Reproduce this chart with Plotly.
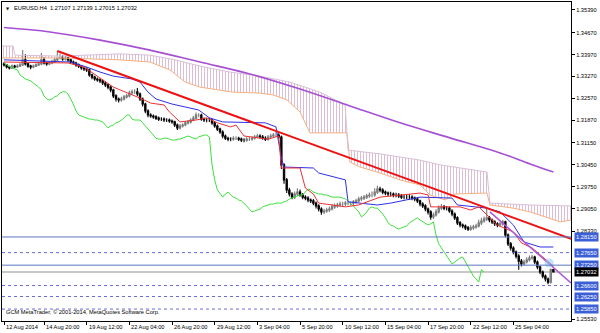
import plotly.graph_objects as go

# ---------------- data (EURUSD H4) ----------------
first_open = 1.3367
closes = [
    1.3364, 1.3357, 1.3354, 1.3360, 1.3357, 1.3360, 1.3364, 1.3380, 1.3367, 1.3360,
    1.3357, 1.3360, 1.3364, 1.3367, 1.3380, 1.3370, 1.3367, 1.3370, 1.3373, 1.3380,
    1.3386, 1.3389, 1.3383, 1.3386, 1.3380, 1.3373, 1.3370, 1.3364, 1.3360, 1.3354,
    1.3351, 1.3348, 1.3332, 1.3325, 1.3319, 1.3316, 1.3313, 1.3306, 1.3300, 1.3293,
    1.3284, 1.3265, 1.3255, 1.3252, 1.3255, 1.3262, 1.3265, 1.3274, 1.3278, 1.3278,
    1.3271, 1.3255, 1.3239, 1.3217, 1.3204, 1.3201, 1.3198, 1.3194, 1.3191, 1.3191,
    1.3188, 1.3188, 1.3185, 1.3182, 1.3172, 1.3163, 1.3169, 1.3172, 1.3179, 1.3182,
    1.3188, 1.3194, 1.3204, 1.3204, 1.3191, 1.3188, 1.3188, 1.3188, 1.3179, 1.3169,
    1.3159, 1.3150, 1.3137, 1.3130, 1.3127, 1.3127, 1.3130, 1.3130, 1.3127, 1.3124,
    1.3124, 1.3127, 1.3127, 1.3130, 1.3134, 1.3137, 1.3134, 1.3130, 1.3127, 1.3134,
    1.3137, 1.3140, 1.3140, 1.3134, 1.3045, 1.2997, 1.2965, 1.2952, 1.2942, 1.2952,
    1.2958, 1.2949, 1.2942, 1.2939, 1.2933, 1.2930, 1.2923, 1.2914, 1.2904, 1.2895,
    1.2898, 1.2901, 1.2904, 1.2911, 1.2914, 1.2917, 1.2920, 1.2920, 1.2923, 1.2923,
    1.2923, 1.2927, 1.2930, 1.2936, 1.2939, 1.2942, 1.2946, 1.2949, 1.2949, 1.2958,
    1.2968, 1.2965, 1.2958, 1.2955, 1.2952, 1.2952, 1.2949, 1.2949, 1.2946, 1.2942,
    1.2942, 1.2942, 1.2942, 1.2939, 1.2936, 1.2930, 1.2920, 1.2914, 1.2904, 1.2895,
    1.2879, 1.2885, 1.2895, 1.2907, 1.2911, 1.2907, 1.2907, 1.2898, 1.2888, 1.2876,
    1.2860, 1.2853, 1.2850, 1.2844, 1.2840, 1.2844, 1.2847, 1.2850, 1.2860, 1.2866,
    1.2872, 1.2876, 1.2869, 1.2863, 1.2857, 1.2853, 1.2857, 1.2863, 1.2821, 1.2793,
    1.2780, 1.2767, 1.2754, 1.2738, 1.2729, 1.2735, 1.2742, 1.2748, 1.2751, 1.2735,
    1.2719, 1.2703, 1.2690, 1.2681, 1.2671, 1.27107, 1.27032,
]
highs = [
    1.3372, 1.3367, 1.3361, 1.3365, 1.3364, 1.3366, 1.3370, 1.3411, 1.3398, 1.3371,
    1.3364, 1.3365, 1.3369, 1.3372, 1.3402, 1.3389, 1.3375, 1.3376, 1.3380, 1.3388,
    1.3408, 1.3400, 1.3395, 1.3393, 1.3390, 1.3384, 1.3378, 1.3374, 1.3368, 1.3363,
    1.3358, 1.3356, 1.3352, 1.3336, 1.3329, 1.3324, 1.3321, 1.3317, 1.3311, 1.3304,
    1.3298, 1.3288, 1.3270, 1.3260, 1.3262, 1.3268, 1.3272, 1.3281, 1.3285, 1.3286,
    1.3290, 1.3276, 1.3260, 1.3243, 1.3222, 1.3210, 1.3206, 1.3203, 1.3199, 1.3197,
    1.3196, 1.3194, 1.3193, 1.3190, 1.3186, 1.3177, 1.3175, 1.3178, 1.3185, 1.3188,
    1.3194, 1.3201, 1.3212, 1.3210, 1.3208, 1.3196, 1.3194, 1.3195, 1.3192, 1.3183,
    1.3174, 1.3163, 1.3155, 1.3142, 1.3135, 1.3133, 1.3136, 1.3136, 1.3135, 1.3132,
    1.3130, 1.3133, 1.3134, 1.3136, 1.3140, 1.3144, 1.3143, 1.3140, 1.3136, 1.3140,
    1.3144, 1.3147, 1.3150, 1.3146, 1.3139, 1.3050, 1.3003, 1.2972, 1.2958, 1.2960,
    1.2970, 1.2966, 1.2955, 1.2948, 1.2945, 1.2938, 1.2936, 1.2928, 1.2919, 1.2910,
    1.2905, 1.2908, 1.2912, 1.2920, 1.2922, 1.2924, 1.2928, 1.2927, 1.2930, 1.2930,
    1.2929, 1.2933, 1.2937, 1.2943, 1.2946, 1.2949, 1.2953, 1.2957, 1.2960, 1.2970,
    1.2978, 1.2975, 1.2970, 1.2963, 1.2960, 1.2959, 1.2957, 1.2956, 1.2955, 1.2952,
    1.2949, 1.2950, 1.2951, 1.2948, 1.2944, 1.2941, 1.2934, 1.2926, 1.2919, 1.2909,
    1.2900, 1.2893, 1.2903, 1.2915, 1.2920, 1.2917, 1.2914, 1.2912, 1.2903, 1.2893,
    1.2881, 1.2866, 1.2858, 1.2855, 1.2850, 1.2852, 1.2854, 1.2857, 1.2870, 1.2876,
    1.2880, 1.2905, 1.2882, 1.2874, 1.2868, 1.2862, 1.2864, 1.2870, 1.2867, 1.2826,
    1.2799, 1.2785, 1.2772, 1.2760, 1.2745, 1.2742, 1.2750, 1.2756, 1.2758, 1.2755,
    1.2740, 1.2724, 1.2708, 1.2695, 1.2686, 1.2714, 1.27139,
]
lows = [
    1.3359, 1.3352, 1.3349, 1.3351, 1.3353, 1.3354, 1.3357, 1.3360, 1.3362, 1.3355,
    1.3350, 1.3353, 1.3357, 1.3360, 1.3363, 1.3365, 1.3361, 1.3363, 1.3366, 1.3370,
    1.3376, 1.3381, 1.3377, 1.3378, 1.3374, 1.3367, 1.3364, 1.3358, 1.3354, 1.3348,
    1.3344, 1.3341, 1.3326, 1.3318, 1.3313, 1.3310, 1.3306, 1.3300, 1.3293, 1.3286,
    1.3277, 1.3258, 1.3247, 1.3244, 1.3246, 1.3250, 1.3257, 1.3260, 1.3269, 1.3271,
    1.3265, 1.3249, 1.3231, 1.3210, 1.3197, 1.3195, 1.3192, 1.3188, 1.3185, 1.3185,
    1.3182, 1.3182, 1.3179, 1.3176, 1.3166, 1.3156, 1.3158, 1.3164, 1.3168, 1.3174,
    1.3177, 1.3184, 1.3190, 1.3197, 1.3186, 1.3182, 1.3181, 1.3182, 1.3173, 1.3163,
    1.3153, 1.3144, 1.3130, 1.3124, 1.3120, 1.3120, 1.3122, 1.3124, 1.3121, 1.3118,
    1.3117, 1.3119, 1.3121, 1.3122, 1.3126, 1.3130, 1.3128, 1.3125, 1.3121, 1.3122,
    1.3130, 1.3133, 1.3134, 1.3128, 1.3032, 1.2985, 1.2955, 1.2944, 1.2935, 1.2936,
    1.2946, 1.2943, 1.2935, 1.2932, 1.2926, 1.2923, 1.2916, 1.2906, 1.2896, 1.2886,
    1.2888, 1.2892, 1.2895, 1.2899, 1.2905, 1.2908, 1.2911, 1.2913, 1.2914, 1.2916,
    1.2915, 1.2917, 1.2921, 1.2925, 1.2930, 1.2933, 1.2936, 1.2940, 1.2942, 1.2943,
    1.2952, 1.2958, 1.2951, 1.2948, 1.2945, 1.2945, 1.2942, 1.2942, 1.2939, 1.2936,
    1.2935, 1.2935, 1.2934, 1.2932, 1.2929, 1.2923, 1.2913, 1.2907, 1.2897, 1.2887,
    1.2870, 1.2872, 1.2880, 1.2890, 1.2901, 1.2900, 1.2899, 1.2892, 1.2881, 1.2869,
    1.2853, 1.2846, 1.2843, 1.2837, 1.2834, 1.2835, 1.2838, 1.2841, 1.2845, 1.2853,
    1.2860, 1.2866, 1.2862, 1.2856, 1.2850, 1.2846, 1.2847, 1.2851, 1.2814, 1.2786,
    1.2772, 1.2760, 1.2746, 1.2710, 1.2721, 1.2723, 1.2730, 1.2737, 1.2742, 1.2728,
    1.2712, 1.2696, 1.2683, 1.2673, 1.2664, 1.2666, 1.27015,
]
opens = [first_open] + closes[:-1]
bars = list(range(len(closes)))

# Ichimoku lines (bar index, price)
tenkan_bars = [0, 24, 30, 36, 41, 51, 55, 60, 62, 66, 72, 76, 80, 85, 87, 90, 99, 103, 104, 111,
               113, 116, 118, 128, 133, 141, 148, 156, 159, 160, 171, 175, 178, 181, 185, 191, 194, 198, 202, 206]
tenkan_vals = [1.3373, 1.3370, 1.3357, 1.3322, 1.3293, 1.3258, 1.3242, 1.3236, 1.3214, 1.3182,
               1.3188, 1.3195, 1.3179, 1.3166, 1.3172, 1.3137, 1.3127, 1.3137, 1.3035, 1.3035,
               1.2971, 1.2952, 1.2923, 1.2911, 1.2917, 1.2942, 1.2949, 1.2955, 1.2949, 1.2911,
               1.2911, 1.2901, 1.2911, 1.2885, 1.2853, 1.2831, 1.2796, 1.2780, 1.2751, 1.2722]
kijun_bars = [0, 25, 31, 36, 41, 48, 51, 54, 57, 63, 73, 77, 82, 98, 102, 104, 105, 116, 118, 128,
              129, 140, 145, 156, 168, 170, 181, 186, 191, 195, 201, 206]
kijun_vals = [1.3380, 1.3373, 1.3357, 1.3341, 1.3328, 1.3319, 1.3309, 1.3277, 1.3255, 1.3239,
              1.3220, 1.3195, 1.3182, 1.3179, 1.3166, 1.3067, 1.3038, 1.3035, 1.3019, 1.2997,
              1.2927, 1.2917, 1.2923, 1.2942, 1.2939, 1.2917, 1.2907, 1.2895, 1.2853, 1.2799,
              1.2783, 1.2783]
span_b_bars = [-1.5, 3.4, 4.1, 21, 43.5, 54.7, 64.1, 73.5, 84.7, 96, 107.2, 118.5, 127.9, 129,
               141, 156, 163.5, 181.1, 182.2, 197.2, 212.6]
span_b_vals = [1.3424, 1.3424, 1.3395, 1.3392, 1.3399, 1.3395, 1.3380, 1.3360, 1.3341, 1.3328,
               1.3309, 1.3277, 1.3236, 1.3092, 1.3080, 1.3060, 1.3045, 1.3022, 1.2923, 1.2917, 1.2914]
span_a_bars = [-1.5, 21, 43.5, 54.7, 62.2, 67.9, 73.5, 85.9, 96, 100.9, 106.1, 111, 114.7, 128.6,
               129.7, 133.5, 141, 148.5, 156, 159.7, 165.4, 169.1, 181.1, 182.2, 190.9, 197.2,
               202.9, 208.5, 212.6]
span_a_vals = [1.3386, 1.3386, 1.3380, 1.3373, 1.3348, 1.3309, 1.3293, 1.3277, 1.3274, 1.3268,
               1.3252, 1.3214, 1.3147, 1.3147, 1.3054, 1.3038, 1.3019, 1.2997, 1.2981, 1.2949,
               1.2933, 1.2952, 1.2955, 1.2917, 1.2907, 1.2895, 1.2879, 1.2863, 1.2869]
chikou_shift = 26

# long moving average (purple)
ma_bars = [0, 17.2, 36, 54.7, 73.5, 92.2, 111, 129.7, 148.5, 167.2, 186, 197.2, 206]
ma_vals = [1.3483, 1.3469, 1.3443, 1.3411, 1.3373, 1.3335, 1.3287, 1.3233, 1.3179, 1.3131,
           1.3083, 1.3048, 1.3022]

# drawn objects
red_trend_bars = [20, 212.6]
red_trend_vals = [1.3408, 1.2809]
purple_trend_bars = [182.2, 212.6]
purple_trend_vals = [1.2895, 1.2668]
solid_levels = [1.28150, 1.27250]
dashed_levels = [1.27650, 1.26600, 1.26250, 1.25850]
current_price = 1.27032
alert_point = (204.4, 1.2732)

y_ticks = [1.35390, 1.34670, 1.33970, 1.33270, 1.32570, 1.31870, 1.31150, 1.30450,
           1.29750, 1.29050, 1.28330, 1.25530]
x_tick_bars = [0, 15, 31, 47, 63, 79, 95, 111, 127, 143, 159, 175, 191]
x_tick_labels = ["12 Aug 2014", "14 Aug 20:00", "19 Aug 12:00", "22 Aug 04:00", "26 Aug 20:00",
                 "29 Aug 12:00", "3 Sep 04:00", "5 Sep 20:00", "10 Sep 12:00", "15 Sep 04:00",
                 "17 Sep 20:00", "22 Sep 12:00", "25 Sep 04:00"]
title_text = "EURUSD.H4  1.27107 1.27139 1.27015 1.27032"
footer_text = "GCM MetaTrader, © 2001-2014, MetaQuotes Software Corp."

# ---------------- figure ----------------
FONT = "Liberation Sans, Arial, sans-serif"
FS = 5.7
fig = go.Figure()

# cloud (senkou span A / B) with vertical hatching
fig.add_trace(go.Scatter(x=span_a_bars, y=span_a_vals, mode="lines",
                         line=dict(color="#f5b080", width=1), hoverinfo="skip"))
fig.add_trace(go.Scatter(x=span_b_bars, y=span_b_vals, mode="lines",
                         line=dict(color="#D8BFD8", width=1), fill="tonexty",
                         fillcolor="rgba(230,205,222,0.12)",
                         fillpattern=dict(shape="|", fgcolor="#dcbcd2", bgcolor="rgba(255,255,255,0)",
                                          size=3, solidity=0.33, fillmode="replace"),
                         hoverinfo="skip"))

# horizontal levels
shapes = []
shapes.append(dict(type="line", xref="paper", x0=0, x1=1, yref="y", y0=current_price, y1=current_price,
                   line=dict(color="#c8c8c8", width=2), layer="below"))
for lv in solid_levels:
    shapes.append(dict(type="line", xref="paper", x0=0, x1=1, yref="y", y0=lv, y1=lv,
                       line=dict(color="#5a77c2", width=1), layer="above"))
for lv in dashed_levels:
    shapes.append(dict(type="line", xref="paper", x0=0, x1=1, yref="y", y0=lv, y1=lv,
                       line=dict(color="#6a6ad8", width=1, dash="3px,3px"), layer="above"))

# long MA
fig.add_trace(go.Scatter(x=ma_bars, y=ma_vals, mode="lines", line=dict(color="#a64fd2", width=1.6, shape="spline"),
                         hoverinfo="skip"))

# candles
fig.add_trace(go.Candlestick(x=bars, open=opens, high=highs, low=lows, close=closes,
                             increasing=dict(line=dict(color="#7a7a7a", width=1.1), fillcolor="#b5b5b5"),
                             decreasing=dict(line=dict(color="#000000", width=1.1), fillcolor="#000000"),
                             whiskerwidth=0, hoverinfo="skip"))

# chikou span (close shifted back)
fig.add_trace(go.Scatter(x=[b - chikou_shift for b in bars[chikou_shift:]], y=closes[chikou_shift:],
                         mode="lines", line=dict(color="#3ee03e", width=1), hoverinfo="skip"))
# kijun / tenkan
fig.add_trace(go.Scatter(x=kijun_bars, y=kijun_vals, mode="lines", line=dict(color="#2f2fe6", width=1),
                         hoverinfo="skip"))
fig.add_trace(go.Scatter(x=tenkan_bars, y=tenkan_vals, mode="lines", line=dict(color="#ec3030", width=1),
                         hoverinfo="skip"))

# trend lines
fig.add_trace(go.Scatter(x=red_trend_bars, y=red_trend_vals, mode="lines", line=dict(color="#ee1111", width=2),
                         hoverinfo="skip"))
fig.add_trace(go.Scatter(x=purple_trend_bars, y=purple_trend_vals, mode="lines",
                         line=dict(color="#b055d8", width=1.5), hoverinfo="skip"))
fig.add_trace(go.Scatter(x=[alert_point[0]], y=[alert_point[1]], mode="markers",
                         marker=dict(size=9, color="rgba(140,200,240,0.55)"), hoverinfo="skip"))

annotations = []
for b, t in zip(x_tick_bars, x_tick_labels):
    annotations.append(dict(x=b, xref="x", y=0, yref="paper", text=t, showarrow=False,
                            xanchor="left", yanchor="top", xshift=0, yshift=-1,
                            font=dict(family=FONT, size=FS, color="#000")))
for lv in solid_levels + dashed_levels:
    annotations.append(dict(x=1, xref="paper", y=lv, yref="y", text=f"{lv:.5f}", showarrow=False,
                            xanchor="left", yanchor="middle", xshift=3, bgcolor="#3b5fd6", borderpad=1,
                            font=dict(family=FONT, size=FS, color="#ffffff")))
annotations.append(dict(x=1, xref="paper", y=current_price, yref="y", text=f"{current_price:.5f}",
                        showarrow=False, xanchor="left", yanchor="middle", xshift=3, bgcolor="#000000",
                        borderpad=1, font=dict(family=FONT, size=FS, color="#ffffff")))
annotations.append(dict(x=0, xref="paper", y=1, yref="paper", text="▼", showarrow=False,
                        xanchor="left", yanchor="top", xshift=2, yshift=-2,
                        font=dict(family="DejaVu Sans", size=4, color="#000")))
annotations.append(dict(x=0, xref="paper", y=1, yref="paper", text=title_text, showarrow=False,
                        xanchor="left", yanchor="top", xshift=10, yshift=-1,
                        font=dict(family=FONT, size=FS, color="#000")))
annotations.append(dict(x=0, xref="paper", y=0, yref="paper", text=footer_text, showarrow=False,
                        xanchor="left", yanchor="bottom", xshift=2, yshift=4,
                        font=dict(family=FONT, size=FS, color="#000")))

fig.update_layout(
    width=600, height=333,
    margin=dict(l=2, r=29, t=2, b=12),
    paper_bgcolor="white", plot_bgcolor="white",
    showlegend=False,
    shapes=shapes,
    annotations=annotations,
    xaxis=dict(range=[-0.75, 212.6], showgrid=False, zeroline=False, showline=True, mirror=True,
               linecolor="#000", linewidth=1, ticks="outside", ticklen=3, tickcolor="#000",
               tickvals=x_tick_bars, showticklabels=False, rangeslider=dict(visible=False)),
    yaxis=dict(range=[1.25469, 1.35645], side="right", showgrid=False, zeroline=False, showline=True,
               mirror=True, linecolor="#000", linewidth=1, ticks="outside", ticklen=3, tickcolor="#000",
               tickvals=y_ticks, ticktext=[f"{v:.5f}" for v in y_ticks],
               tickfont=dict(family=FONT, size=FS, color="#000")),
)

fig.write_html("out.html")
